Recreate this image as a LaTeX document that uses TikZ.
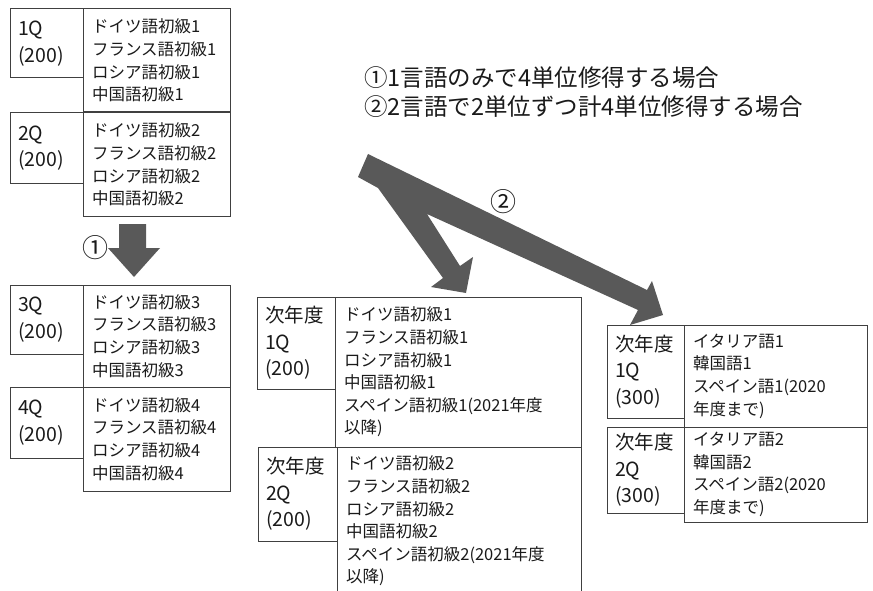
\documentclass[tikz,border=0pt]{standalone}
\usepackage{fontspec}
\setmainfont{Noto Sans CJK JP}
\definecolor{arrowgray}{HTML}{595959}
\definecolor{linegray}{HTML}{404040}
\definecolor{textgray}{HTML}{1A1A1A}

\begin{document}
\begin{tikzpicture}[x=1pt,y=-1pt,
  qbox/.style={draw=linegray, line width=1pt, outer sep=0pt, anchor=north west, inner xsep=8pt, inner ysep=0pt, align=left, text=textgray, font=\fontsize{19.5}{26.5}\selectfont},
  kbox/.style={draw=linegray, line width=1pt, outer sep=0pt, anchor=north west, inner xsep=9pt, inner ysep=0pt, align=left, text=textgray, font=\fontsize{16.5}{22.6}\selectfont},
  numlabel/.style={text=textgray, inner sep=0pt, font=\fontsize{26}{26}\selectfont}]
  \useasboundingbox (0,0) rectangle (873,591);
  \clip (0,0) rectangle (873,591);

  % first year, left column
  \node (lq1) [qbox, minimum width=73pt, minimum height=69pt, text width=57pt] at (10,9) {1Q\\(200)};
  \node (lk1) [kbox, minimum width=147pt, minimum height=103pt, text width=129pt] at (83,9) {ドイツ語初級1\\フランス語初級1\\ロシア語初級1\\中国語初級1};
  \node (lq2) [qbox, minimum width=73pt, minimum height=70pt, text width=57pt] at (10,113) {2Q\\(200)};
  \node (lk2) [kbox, minimum width=147pt, minimum height=103pt, text width=129pt] at (83,113) {ドイツ語初級2\\フランス語初級2\\ロシア語初級2\\中国語初級2};

  \fill[arrowgray] (119,224) -- (146,224) -- (146,248) -- (160,248) -- (134,277) -- (108,248) -- (119,248) -- cycle;
  \node (n1) [numlabel] at (95,248) {①};

  \node (lq3) [qbox, minimum width=73pt, minimum height=69pt, text width=57pt] at (10,285) {3Q\\(200)};
  \node (lk3) [kbox, minimum width=147pt, minimum height=102pt, text width=129pt] at (83,285) {ドイツ語初級3\\フランス語初級3\\ロシア語初級3\\中国語初級3};
  \node (lq4) [qbox, minimum width=73pt, minimum height=71pt, text width=57pt] at (10,387) {4Q\\(200)};
  \node (lk4) [kbox, minimum width=147pt, minimum height=104pt, text width=129pt] at (83,387) {ドイツ語初級4\\フランス語初級4\\ロシア語初級4\\中国語初級4};

  \node (title) [anchor=west, align=left, text=textgray, inner sep=0pt, font=\fontsize{23.5}{29}\selectfont] at (364,92.5) {①1言語のみで4単位修得する場合\\②2言語で2単位ずつ計4単位修得する場合};

  % split arrow
  \fill[arrowgray] (368,154) -- (647,290) -- (652,281) -- (663,315) -- (630,325) -- (638,310)
    -- (427,214) -- (460,266) -- (473,257) -- (466,293) -- (431,287) -- (443,278)
    -- (378,188) -- (358,177) -- cycle;
  \node (n2) [numlabel] at (503,202) {②};

  % next year, middle column
  \node (mq1) [qbox, minimum width=78pt, minimum height=92pt, text width=62pt] at (257,297) {次年度\\1Q\\(200)};
  \node (mk1) [kbox, minimum width=246pt, minimum height=150pt, text width=228pt] at (335,297) {ドイツ語初級1\\フランス語初級1\\ロシア語初級1\\中国語初級1\\スペイン語初級1(2021年度\\以降)};
  \node (mq2) [qbox, minimum width=79pt, minimum height=94pt, text width=63pt] at (258,447) {次年度\\2Q\\(200)};
  \node (mk2) [kbox, minimum width=244pt, minimum height=148pt, text width=226pt] at (337,447) {ドイツ語初級2\\フランス語初級2\\ロシア語初級2\\中国語初級2\\スペイン語初級2(2021年度\\以降)};

  % next year, right column
  \node (rq1) [qbox, minimum width=77pt, minimum height=93pt, text width=61pt] at (607,325) {次年度\\1Q\\(300)};
  \node (rk1) [kbox, minimum width=183pt, minimum height=102pt, text width=165pt] at (684,325) {イタリア語1\\韓国語1\\スペイン語1(2020\\年度まで)};
  \node (rq2) [qbox, minimum width=77pt, minimum height=86pt, text width=61pt] at (607,427) {次年度\\2Q\\(300)};
  \node (rk2) [kbox, minimum width=183pt, minimum height=95pt, text width=165pt] at (684,427) {イタリア語2\\韓国語2\\スペイン語2(2020\\年度まで)};
\end{tikzpicture}
\end{document}
